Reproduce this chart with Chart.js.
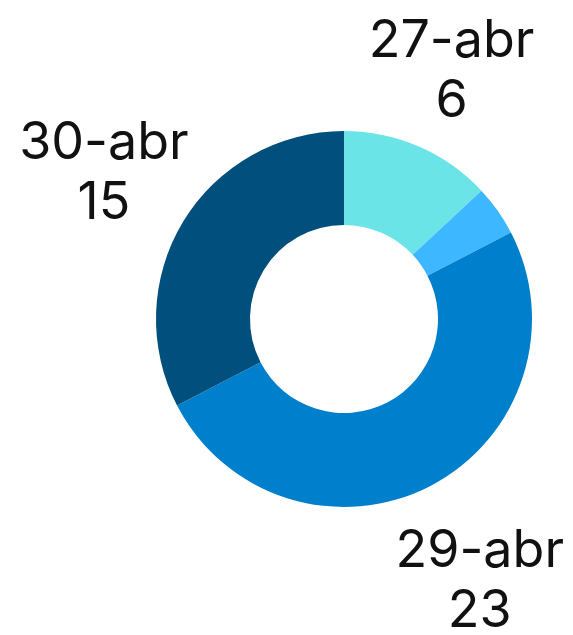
<!DOCTYPE html>
<html><head><meta charset="utf-8">
<script src="https://cdn.jsdelivr.net/npm/chart.js@4.4.1/dist/chart.umd.min.js"></script>
<style>html,body{margin:0;padding:0;background:#fff}#wrap{width:573px;height:635px}</style>
</head><body><div id="wrap"><canvas id="c" width="573" height="635"></canvas></div>
<script>
const categories = ['27-abr', '28-abr', '29-abr', '30-abr'];
const values = [6, 2, 23, 15];
const showLabel = [true, false, true, true];
const colors = ['#6BE4E8', '#3DB7FF', '#0080CC', '#004F7C'];
const labelDist = [270, 270, 295, 281];

const labelPlugin = {
  id: 'outLabels',
  afterDatasetsDraw(chart) {
    const ctx = chart.ctx;
    const meta = chart.getDatasetMeta(0);
    ctx.save();
    ctx.font = '52px Inter, "Noto Sans", sans-serif';
    ctx.fillStyle = '#111';
    ctx.textAlign = 'center';
    ctx.textBaseline = 'middle';
    meta.data.forEach((arc, i) => {
      if (!showLabel[i]) return;
      const p = arc.getProps(['x','y','startAngle','endAngle'], true);
      const mid = (p.startAngle + p.endAngle) / 2;
      const d = labelDist[i];
      const cx = p.x + Math.cos(mid) * d;
      const cy = p.y + Math.sin(mid) * d;
      ctx.fillText(categories[i], cx, cy - 30);
      ctx.fillText(String(values[i]), cx, cy + 30);
    });
    ctx.restore();
  }
};

new Chart(document.getElementById('c'), {
  type: 'doughnut',
  data: { labels: categories, datasets: [{ data: values, backgroundColor: colors, borderWidth: 0 }] },
  options: {
    responsive: false, animation: false, cutout: '50%',
    layout: { padding: { left: 156, right: 41, top: 131, bottom: 128 } },
    plugins: { legend: { display: false }, tooltip: { enabled: false } }
  },
  plugins: [labelPlugin]
});
</script></body></html>
